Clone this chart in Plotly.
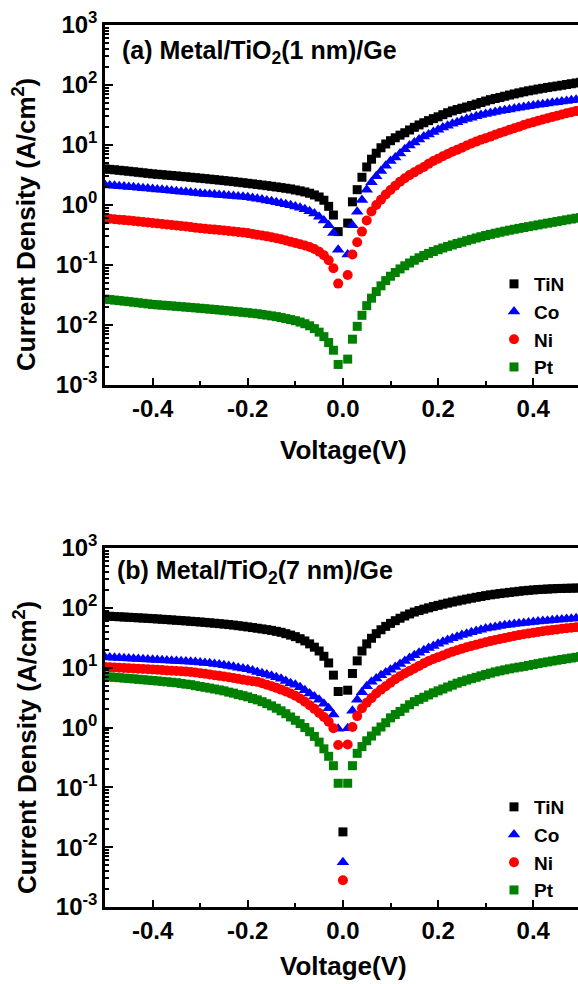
import plotly.graph_objects as go

# Sweep voltages (V): -0.50 ... 0.50 in 0.01 V steps
voltage = [round(-0.5 + 0.01 * k, 2) for k in range(101)]

# ---------------- (a) Metal/TiO2(1 nm)/Ge  (A/cm^2) ----------------
tin_a_neg = [4.00, 3.93, 3.86, 3.79, 3.72, 3.65, 3.58, 3.51, 3.44, 3.37,
             3.30, 3.25, 3.20, 3.15, 3.10, 3.05, 3.00, 2.95, 2.90, 2.85,
             2.80, 2.75, 2.70, 2.65, 2.60, 2.55, 2.50, 2.45, 2.40, 2.35,
             2.30, 2.25, 2.20, 2.15, 2.10, 2.05, 2.00, 1.95, 1.90, 1.85,
             1.78, 1.72, 1.65, 1.57, 1.47, 1.36, 1.20, 0.95, 0.68, 0.36]
tin_a_zero = None
tin_a_pos = [0.50, 1.13, 1.80, 2.90, 4.30, 5.80, 7.30, 9.00, 10.4, 11.8,
             13.2, 14.6, 16.0, 17.8, 19.7, 21.6, 23.5, 25.5, 27.5, 29.5,
             32.0, 34.5, 37.0, 39.0, 41.0, 43.0, 45.5, 48.0, 51.0, 54.0,
             57.0, 59.5, 62.0, 65.0, 68.0, 71.0, 74.0, 77.0, 80.0, 82.5,
             85.5, 88.0, 91.0, 93.5, 96.0, 99.0, 102, 105, 108, 111]

co_a_neg = [2.15, 2.12, 2.09, 2.06, 2.03, 2.00, 1.97, 1.94, 1.91, 1.88,
            1.85, 1.82, 1.79, 1.76, 1.73, 1.70, 1.67, 1.64, 1.61, 1.58,
            1.55, 1.53, 1.51, 1.49, 1.47, 1.45, 1.43, 1.41, 1.39, 1.37,
            1.35, 1.31, 1.27, 1.23, 1.19, 1.15, 1.11, 1.07, 1.03, 0.99,
            0.94, 0.90, 0.85, 0.79, 0.72, 0.64, 0.55, 0.46, 0.34, 0.18]
co_a_zero = None
co_a_pos = [0.15, 0.46, 0.77, 1.21, 1.80, 2.40, 3.00, 3.70, 4.50, 5.40,
            6.20, 7.20, 8.50, 9.80, 11.0, 12.3, 13.8, 15.0, 16.5, 18.0,
            19.5, 21.0, 22.5, 24.0, 25.5, 27.0, 28.5, 30.0, 31.5, 33.0,
            34.2, 35.5, 36.7, 38.0, 39.2, 40.5, 41.7, 43.0, 44.2, 45.5,
            46.7, 48.0, 49.2, 50.5, 51.7, 53.0, 54.2, 55.5, 56.7, 58.0]

ni_a_neg = [0.600, 0.590, 0.580, 0.570, 0.560, 0.550, 0.540, 0.530, 0.520, 0.510,
            0.500, 0.491, 0.482, 0.473, 0.464, 0.455, 0.446, 0.437, 0.428, 0.419,
            0.410, 0.403, 0.396, 0.389, 0.382, 0.375, 0.368, 0.361, 0.354, 0.347,
            0.340, 0.330, 0.320, 0.310, 0.300, 0.290, 0.280, 0.268, 0.256, 0.244,
            0.232, 0.222, 0.212, 0.200, 0.185, 0.166, 0.145, 0.120, 0.088, 0.049]
ni_a_zero = None
ni_a_pos = [0.068, 0.150, 0.240, 0.360, 0.550, 0.780, 1.00, 1.22, 1.50, 1.78,
            2.10, 2.45, 2.80, 3.15, 3.50, 3.90, 4.30, 4.85, 5.40, 5.90,
            6.50, 7.10, 7.70, 8.30, 9.00, 9.80, 10.6, 11.4, 12.2, 13.0,
            13.8, 14.8, 15.8, 16.8, 17.9, 19.0, 20.2, 21.5, 22.8, 24.0,
            25.3, 26.6, 28.0, 29.4, 30.8, 32.3, 33.8, 35.3, 36.8, 38.5]

pt_a_neg = [0.0270, 0.0265, 0.0260, 0.0255, 0.0250, 0.0245, 0.0240, 0.0235, 0.0230, 0.0225,
            0.0220, 0.0217, 0.0214, 0.0211, 0.0208, 0.0205, 0.0202, 0.0199, 0.0196, 0.0193,
            0.0190, 0.0187, 0.0184, 0.0181, 0.0178, 0.0175, 0.0172, 0.0169, 0.0166, 0.0163,
            0.0160, 0.0157, 0.0154, 0.0150, 0.0146, 0.0142, 0.0138, 0.0133, 0.0128, 0.0123,
            0.0118, 0.0112, 0.0105, 0.0097, 0.0087, 0.0076, 0.0064, 0.0051, 0.0038, 0.0022]
pt_a_zero = None
pt_a_pos = [0.0027, 0.0058, 0.0095, 0.0145, 0.021, 0.028, 0.036, 0.045, 0.055, 0.065,
            0.075, 0.086, 0.097, 0.108, 0.120, 0.132, 0.144, 0.156, 0.168, 0.180,
            0.192, 0.204, 0.216, 0.228, 0.240, 0.254, 0.268, 0.282, 0.296, 0.310,
            0.324, 0.338, 0.352, 0.366, 0.380, 0.394, 0.408, 0.422, 0.436, 0.450,
            0.466, 0.482, 0.498, 0.514, 0.530, 0.548, 0.566, 0.584, 0.602, 0.620]

# ---------------- (b) Metal/TiO2(7 nm)/Ge  (A/cm^2) ----------------
tin_b_neg = [73.0, 72.3, 71.6, 70.9, 70.2, 69.5, 68.8, 68.1, 67.4, 66.7,
             66.0, 65.2, 64.4, 63.6, 62.8, 62.0, 61.2, 60.4, 59.6, 58.8,
             58.0, 57.1, 56.2, 55.3, 54.4, 53.5, 52.5, 51.5, 50.3, 49.2,
             48.0, 46.8, 45.6, 44.4, 43.2, 42.0, 40.5, 39.0, 37.0, 35.0,
             33.0, 30.5, 28.0, 25.0, 22.0, 19.0, 15.5, 12.0, 7.5, 4.0]
tin_b_zero = 0.018
tin_b_pos = [4.2, 8.0, 13.0, 19.0, 25.0, 31.0, 37.0, 43.0, 49.0, 55.0,
             61.0, 67.0, 73.0, 79.0, 85.0, 90.0, 95.0, 100, 105, 110,
             115, 120, 125, 130, 135, 140, 145, 150, 155, 160,
             165, 169, 173, 177, 181, 185, 189, 193, 196, 199,
             202, 204, 206, 208, 210, 211, 212, 213, 214, 215]

co_b_neg = [15.0, 14.85, 14.7, 14.55, 14.4, 14.25, 14.1, 13.95, 13.8, 13.65,
            13.5, 13.4, 13.3, 13.15, 13.0, 12.9, 12.8, 12.7, 12.6, 12.4,
            12.2, 12.0, 11.8, 11.55, 11.3, 11.0, 10.7, 10.4, 10.0, 9.7,
            9.4, 8.95, 8.5, 8.1, 7.7, 7.3, 6.9, 6.5, 6.0, 5.5,
            5.2, 4.7, 4.2, 3.7, 3.3, 2.9, 2.5, 2.1, 1.65, 0.95]
co_b_zero = 0.0056
co_b_pos = [0.97, 1.90, 2.90, 3.90, 4.90, 5.80, 6.60, 7.50, 8.30, 9.20,
            10.3, 11.5, 12.9, 14.5, 16.1, 17.8, 19.5, 21.3, 23.1, 25.0,
            27.0, 29.0, 31.0, 33.0, 35.0, 37.0, 39.0, 41.0, 43.2, 45.0,
            46.5, 48.0, 49.5, 51.0, 52.3, 53.5, 54.7, 56.0, 57.0, 58.0,
            59.0, 60.0, 61.0, 62.0, 63.0, 64.0, 65.0, 66.0, 67.0, 68.0]

ni_b_neg = [10.3, 10.2, 10.1, 10.0, 9.9, 9.8, 9.7, 9.6, 9.5, 9.4,
            9.3, 9.2, 9.1, 9.0, 8.9, 8.8, 8.7, 8.6, 8.5, 8.3,
            8.1, 7.9, 7.7, 7.5, 7.3, 7.1, 6.9, 6.7, 6.5, 6.3,
            6.1, 5.95, 5.8, 5.5, 5.2, 4.9, 4.6, 4.3, 4.0, 3.7,
            3.4, 3.05, 2.7, 2.35, 2.05, 1.75, 1.5, 1.25, 0.97, 0.51]
ni_b_zero = 0.0028
ni_b_pos = [0.52, 1.02, 1.55, 2.10, 2.60, 3.10, 3.70, 4.30, 4.90, 5.60,
            6.40, 7.20, 8.00, 8.80, 9.70, 10.7, 11.8, 12.9, 14.0, 15.0,
            16.0, 17.2, 18.4, 19.6, 20.8, 22.0, 23.1, 24.2, 25.4, 26.6,
            27.8, 29.0, 30.2, 31.4, 32.6, 33.8, 35.0, 36.2, 37.3, 38.4,
            39.5, 40.6, 41.6, 42.6, 43.6, 44.6, 45.6, 46.6, 47.5, 48.5]

pt_b_neg = [7.1, 7.0, 6.9, 6.8, 6.7, 6.6, 6.5, 6.4, 6.3, 6.2,
            6.1, 6.0, 5.9, 5.8, 5.7, 5.6, 5.45, 5.3, 5.2, 5.0,
            4.85, 4.7, 4.55, 4.4, 4.25, 4.1, 3.9, 3.75, 3.55, 3.4,
            3.25, 3.05, 2.9, 2.7, 2.5, 2.3, 2.1, 1.9, 1.7, 1.5,
            1.32, 1.16, 1.0, 0.85, 0.71, 0.57, 0.44, 0.33, 0.23, 0.117]
pt_b_zero = None
pt_b_pos = [0.117, 0.23, 0.37, 0.48, 0.60, 0.72, 0.87, 1.02, 1.20, 1.45,
            1.65, 1.85, 2.10, 2.40, 2.70, 2.95, 3.20, 3.50, 3.80, 4.10,
            4.40, 4.75, 5.10, 5.50, 5.85, 6.20, 6.55, 6.90, 7.30, 7.70,
            8.10, 8.50, 8.85, 9.20, 9.55, 9.90, 10.2, 10.5, 10.9, 11.3,
            11.7, 12.1, 12.5, 12.9, 13.3, 13.7, 14.1, 14.5, 14.9, 15.3]

metals = ["TiN", "Co", "Ni", "Pt"]
x_tick_vals = [-0.4, -0.2, 0.0, 0.2, 0.4]
x_tick_text = ["-0.4", "-0.2", "0.0", "0.2", "0.4"]
y_tick_exps = [-3, -2, -1, 0, 1, 2, 3]

series_a = {
    "TiN": tin_a_neg + [tin_a_zero] + tin_a_pos,
    "Co": co_a_neg + [co_a_zero] + co_a_pos,
    "Ni": ni_a_neg + [ni_a_zero] + ni_a_pos,
    "Pt": pt_a_neg + [pt_a_zero] + pt_a_pos,
}
series_b = {
    "TiN": tin_b_neg + [tin_b_zero] + tin_b_pos,
    "Co": co_b_neg + [co_b_zero] + co_b_pos,
    "Ni": ni_b_neg + [ni_b_zero] + ni_b_pos,
    "Pt": pt_b_neg + [pt_b_zero] + pt_b_pos,
}

style = {
    "TiN": dict(color="#000000", symbol="square", size=9),
    "Co": dict(color="#0000FF", symbol="triangle-up", size=11),
    "Ni": dict(color="#FF0000", symbol="circle", size=10),
    "Pt": dict(color="#008000", symbol="square", size=9),
}

FONT = "Liberation Sans, Arial, sans-serif"

fig = go.Figure()
for m in metals:
    st = style[m]
    fig.add_trace(go.Scatter(
        x=voltage, y=series_a[m], mode="markers", name=m,
        marker=dict(color=st["color"], symbol=st["symbol"], size=st["size"], line=dict(width=0)),
        xaxis="x", yaxis="y", legend="legend", legendgroup=m + "a"))
for m in metals:
    st = style[m]
    fig.add_trace(go.Scatter(
        x=voltage, y=series_b[m], mode="markers", name=m,
        marker=dict(color=st["color"], symbol=st["symbol"], size=st["size"], line=dict(width=0)),
        xaxis="x2", yaxis="y2", legend="legend2", legendgroup=m + "b"))

L, T, B = 105, 25, 77
W, H = 578, 984
plot_h = H - T - B
top_bottom_px = 385
bot_top_px = 548


def py(pix):
    return (H - B - pix) / plot_h


def px(pix):
    return (pix - L) / (W - L)


minor_y = [k * 10.0 ** e for e in range(-3, 3) for k in range(2, 10)]

xaxis_common = dict(
    range=[-0.5, 0.494], showline=True, linewidth=2.5, linecolor="black", mirror=True,
    ticks="inside", ticklen=7, tickwidth=2, tickcolor="black",
    tickvals=x_tick_vals, ticktext=x_tick_text,
    minor=dict(tickvals=[-0.3, -0.1, 0.1, 0.3], ticks="inside", ticklen=4, tickwidth=2, tickcolor="black"),
    showgrid=False, zeroline=False,
    tickfont=dict(family=FONT, size=24, color="black", weight="bold"),
)
yaxis_common = dict(
    type="log", range=[-3, 3], showline=True, linewidth=2.5, linecolor="black",
    ticks="inside", ticklen=8, tickwidth=2, tickcolor="black",
    tickvals=[10.0 ** e for e in y_tick_exps],
    ticktext=["10<sup>%d</sup>" % e for e in y_tick_exps],
    minor=dict(tickvals=minor_y, ticks="inside", ticklen=4, tickwidth=1.5, tickcolor="black"),
    showgrid=False, zeroline=False,
    tickfont=dict(family=FONT, size=24, color="black", weight="bold"),
)

legend_font = dict(family=FONT, size=19, color="black", weight="bold")
fig.update_layout(
    width=W, height=H,
    margin=dict(l=L, r=0, t=T, b=B),
    paper_bgcolor="white", plot_bgcolor="white",
    xaxis=dict(anchor="y", domain=[0, 1], **xaxis_common),
    yaxis=dict(anchor="x", domain=[py(top_bottom_px), 1], **yaxis_common),
    xaxis2=dict(anchor="y2", domain=[0, 1], **xaxis_common),
    yaxis2=dict(anchor="x2", domain=[0, py(bot_top_px)], **yaxis_common),
    legend=dict(x=px(494), y=py(265), xanchor="left", yanchor="top", bgcolor="rgba(0,0,0,0)",
                font=legend_font, tracegroupgap=0, itemsizing="trace"),
    legend2=dict(x=px(494), y=py(788), xanchor="left", yanchor="top", bgcolor="rgba(0,0,0,0)",
                 font=legend_font, tracegroupgap=0, itemsizing="trace"),
    showlegend=True,
)

ann_font = dict(family=FONT, size=25, color="black", weight="bold")
title_font = dict(family=FONT, size=26, color="black", weight="bold")
annotations = [
    dict(text="(a) Metal/TiO<sub>2</sub>(1 nm)/Ge", x=px(120), y=py(52), xref="paper", yref="paper",
         xanchor="left", yanchor="middle", showarrow=False, font=ann_font),
    dict(text="(b) Metal/TiO<sub>2</sub>(7 nm)/Ge", x=px(115), y=py(572), xref="paper", yref="paper",
         xanchor="left", yanchor="middle", showarrow=False, font=ann_font),
    dict(text="Voltage(V)", x=px(343), y=py(450), xref="paper", yref="paper",
         xanchor="center", yanchor="middle", showarrow=False, font=title_font),
    dict(text="Voltage(V)", x=px(343), y=py(966), xref="paper", yref="paper",
         xanchor="center", yanchor="middle", showarrow=False, font=title_font),
    dict(text="Current Density (A/cm<sup>2</sup>)", x=px(25), y=py(225), xref="paper", yref="paper",
         xanchor="center", yanchor="middle", textangle=-90, showarrow=False, font=title_font),
    dict(text="Current Density (A/cm<sup>2</sup>)", x=px(25), y=py(748), xref="paper", yref="paper",
         xanchor="center", yanchor="middle", textangle=-90, showarrow=False, font=title_font),
]
fig.update_layout(annotations=annotations)

fig.write_html("out.html")
